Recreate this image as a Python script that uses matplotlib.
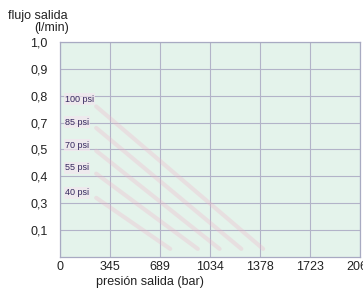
import matplotlib
matplotlib.use('Agg')
import matplotlib.pyplot as plt

# =====================================================================
# Chart data
# =====================================================================
x_ticks = [0, 345, 689, 1034, 1378, 1723, 2068]
x_labels = ['0', '345', '689', '1034', '1378', '1723', '2068']
y_ticks = [1, 2, 3, 4, 5, 6, 7, 8]
y_labels = ['0,1', '0,3', '0,4', '0,5', '0,7', '0,8', '0,9', '1,0']

# supply pressure curves (faint lines in the scan)
curve_names = ['100 psi', '85 psi', '70 psi', '55 psi', '40 psi']
label_y = [5.87, 5.02, 4.16, 3.31, 2.38]
curve_x_start = [250, 250, 250, 250, 250]
curve_y_start = [5.6, 4.8, 3.95, 3.1, 2.2]
curve_x_end = [1400, 1250, 1100, 950, 760]
curve_y_end = [0.3, 0.3, 0.3, 0.3, 0.3]

plt.rcParams['font.family'] = ['Liberation Sans', 'DejaVu Sans']

fig = plt.figure(figsize=(3.63, 2.91), dpi=100)
ax = fig.add_axes([0.165, 0.117, 0.827, 0.739])
ax.set_facecolor('#e4f3eb')

for i in range(len(curve_names)):
    ax.plot([curve_x_start[i], curve_x_end[i]], [curve_y_start[i], curve_y_end[i]],
            color='#f0b4c8', lw=3, alpha=0.3, solid_capstyle='round', zorder=2)
    ax.text(35, label_y[i], curve_names[i], fontsize=6.5, color='#35285e',
            ha='left', va='center', zorder=4,
            bbox=dict(boxstyle='square,pad=0.15', fc='#f3e6ee', ec='none', alpha=0.7))

ax.set_xlim(0, 2068)
ax.set_ylim(0, 8)
ax.set_xticks(x_ticks)
ax.set_xticklabels(x_labels)
ax.set_yticks(y_ticks)
ax.set_yticklabels(y_labels)
ax.tick_params(length=0, labelsize=9, colors='#222222')
ax.tick_params(axis='y', pad=9)
ax.tick_params(axis='x', pad=3)
ax.grid(True, color='#b2b3c8', lw=0.8, zorder=1)
ax.set_axisbelow(True)
for side in ['left', 'bottom', 'right', 'top']:
    ax.spines[side].set_color('#a8aac2')
    ax.spines[side].set_linewidth(0.9)

fig.text(0.022, 0.945, 'flujo salida', fontsize=9, ha='left', va='center', color='#222222')
fig.text(0.095, 0.905, '(l/min)', fontsize=9, ha='left', va='center', color='#222222')
fig.text(0.413, 0.032, 'presión salida (bar)', fontsize=9, ha='center', va='center', color='#222222')

fig.savefig('out.png', dpi=100)
